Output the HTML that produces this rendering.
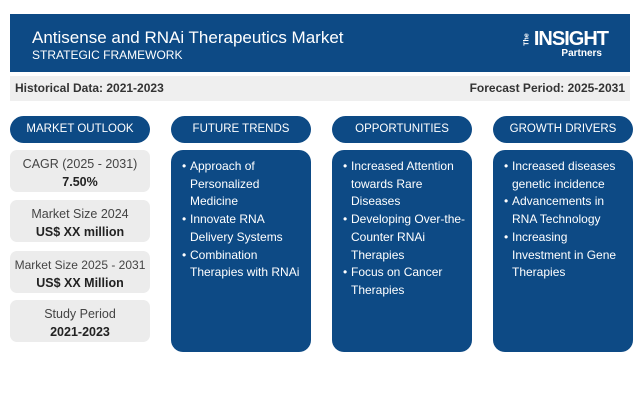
<!DOCTYPE html>
<html><head><style>
*{margin:0;padding:0;box-sizing:border-box}
body{width:640px;height:406px;background:#fff;font-family:"Liberation Sans",Arial,sans-serif;position:relative;overflow:hidden}
.hdr{position:absolute;left:10px;top:14px;width:620px;height:58px;background:#0d4a85;color:#fff}
.t1{position:absolute;left:22px;top:14px;font-size:17px}
.t2{position:absolute;left:22px;top:34px;font-size:12px}
.logo{position:absolute;right:22px;top:14px;color:#fff;font-weight:bold;text-align:right}
.gray{position:absolute;left:10px;top:76px;width:620px;height:25px;background:#efefef;font-size:12px;font-weight:bold;color:#333;line-height:25px;padding:0 5px}
.pill{position:absolute;top:116px;height:27px;width:140px;background:#0d4a85;color:#fff;border-radius:14px;font-size:11.5px;text-align:center;line-height:27px}
.kb{position:absolute;left:10px;width:140px;height:42px;background:#ececec;border-radius:7px;text-align:center;font-size:12.5px;color:#444;padding-top:5px;line-height:18px}
.kb b{color:#222}
.bb{position:absolute;top:150px;width:140px;height:202px;background:#0d4a85;border-radius:12px;color:#fff;font-size:12px;line-height:17.7px;padding:8px 6px 0 19px}
.bb div{position:relative}
.bb div:before{content:"•";position:absolute;left:-8px}
</style></head><body>
<div class="hdr"><div class="t1">Antisense and RNAi Therapeutics Market</div><div class="t2">STRATEGIC FRAMEWORK</div>
<div class="logo"><span style="font-size:7px;display:inline-block;transform:rotate(-90deg);position:relative;top:-4px">The</span><span style="font-size:20px;letter-spacing:-1px">INSIGHT</span><div style="font-size:10px;margin-top:-3px;margin-right:6px">Partners</div></div></div>
<div class="gray"><span>Historical Data: 2021-2023</span><span style="float:right">Forecast Period: 2025-2031</span></div>
<div class="pill" style="left:10px">MARKET OUTLOOK</div>
<div class="pill" style="left:171px">FUTURE TRENDS</div>
<div class="pill" style="left:332px">OPPORTUNITIES</div>
<div class="pill" style="left:493px">GROWTH DRIVERS</div>
<div class="kb" style="top:150px">CAGR (2025 - 2031)<br><b>7.50%</b></div>
<div class="kb" style="top:200px">Market Size 2024<br><b>US$ XX million</b></div>
<div class="kb" style="top:251px;font-size:12px">Market Size 2025 - 2031<br><b style="font-size:12.5px">US$ XX Million</b></div>
<div class="kb" style="top:300px">Study Period<br><b>2021-2023</b></div>
<div class="bb" style="left:171px"><div>Approach of Personalized Medicine</div><div>Innovate RNA Delivery Systems</div><div>Combination Therapies with RNAi</div></div>
<div class="bb" style="left:332px"><div>Increased Attention towards Rare Diseases</div><div>Developing Over-the-Counter RNAi Therapies</div><div>Focus on Cancer Therapies</div></div>
<div class="bb" style="left:493px"><div>Increased diseases genetic incidence</div><div>Advancements in RNA Technology</div><div>Increasing Investment in Gene Therapies</div></div>
</body></html>
